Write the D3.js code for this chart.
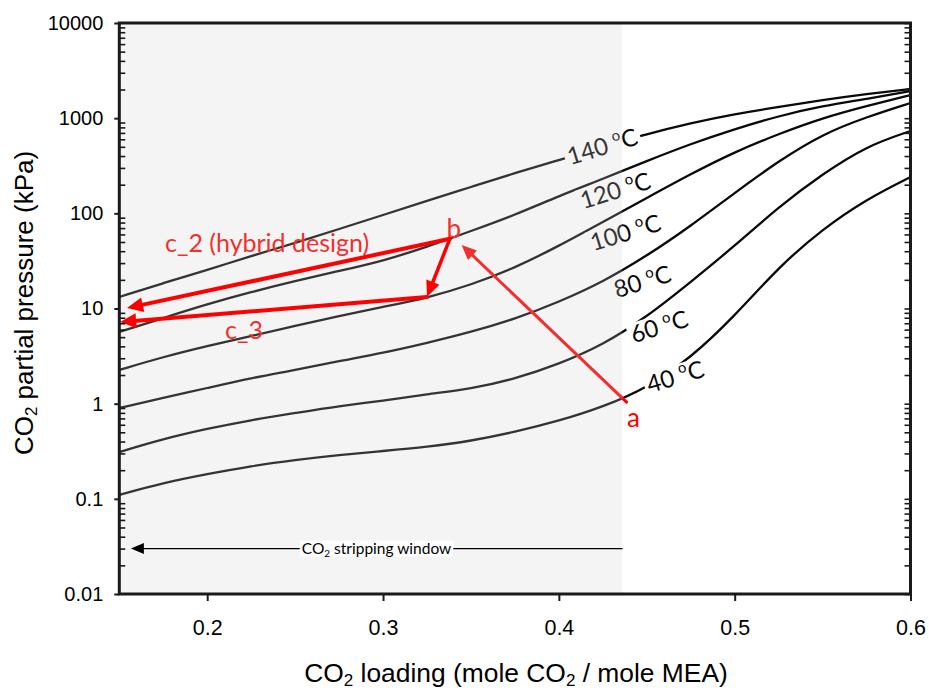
<!DOCTYPE html>
<html>
<head>
<meta charset="utf-8">
<script src="https://cdn.jsdelivr.net/npm/d3@7"></script>
<style>
  body { margin: 0; background: #fff; }
  svg { display: block; }
</style>
</head>
<body>
<svg id="chart" width="929" height="691"></svg>
<script>
// CO2 loading (mole CO2 / mole MEA) at which the isotherms are sampled
const loading = [0.15, 0.175, 0.2, 0.225, 0.25, 0.275, 0.3, 0.325, 0.35, 0.375,
                 0.4, 0.425, 0.45, 0.475, 0.5, 0.525, 0.55, 0.575, 0.6];

// CO2 partial pressure (kPa) for each temperature
const p40  = [0.110, 0.147, 0.182, 0.221, 0.256, 0.289, 0.318, 0.351, 0.405, 0.504,
              0.658, 0.923, 1.46, 3.02, 8.34, 27.3, 68.5, 141, 241];
const p60  = [0.310, 0.426, 0.545, 0.674, 0.798, 0.946, 1.07, 1.26, 1.43, 1.82,
              2.61, 4.14, 8.15, 19.0, 45.4, 117, 259, 510, 733];
const p80  = [0.901, 1.15, 1.46, 1.86, 2.26, 2.81, 3.41, 4.34, 5.66, 7.76,
              11.7, 19.0, 35.6, 73.6, 164, 355, 682, 1028, 1443];
const p100 = [2.26, 3.10, 4.04, 5.14, 6.55, 8.34, 10.4, 12.9, 17.7, 26.7,
              45.4, 81.1, 145, 259, 442, 682, 1005, 1343, 1751];
const p120 = [5.66, 7.94, 11.1, 14.9, 19.4, 24.8, 31.6, 44.3, 65.2, 96.1,
              152, 230, 355, 536, 769, 1054, 1343, 1589, 1927];
const p140 = [13.2, 18.5, 25.4, 35.6, 48.8, 68.4, 96.1, 135, 189, 265,
              363, 498, 682, 889, 1107, 1310, 1552, 1795, 2027];

const temps = [40, 60, 80, 100, 120, 140];
const pressures = [p40, p60, p80, p100, p120, p140];

// axis ticks
const xTicks = [0.2, 0.3, 0.4, 0.5, 0.6];
const xTickLabels = ["0.2", "0.3", "0.4", "0.5", "0.6"];
const yTicks = [0.01, 0.1, 1, 10, 100, 1000, 10000];
const yTickLabels = ["0.01", "0.1", "1", "10", "100", "1000", "10000"];

// stripping window upper loading limit
const windowEdge = 0.436;

// process path points: [loading, kPa]
const pointA = [0.4385, 1.04];
const pointB = [0.338, 54];
const arrowAtB = [0.3447, 46.5];
const pointTurn = [0.325, 13.2];
const c2End = [0.1544, 10.1];
const c3End = [0.1505, 7.2];
const windowArrowTip = [0.1566, 0.03];

// where each isotherm label sits: [loading, kPa]
const labelAnchors = [[0.4663, 1.9], [0.4572, 6.4], [0.4476, 19], [0.4379, 62], [0.4322, 172], [0.4248, 498]];

const W = 929, H = 691;
const plot = { left: 119.3, right: 910.5, top: 23, bottom: 594 };
const svg = d3.select("#chart");

const x = d3.scaleLinear().domain([0.15, 0.6]).range([plot.left, plot.right]);
const y = d3.scaleLog().domain([0.01, 10000]).range([plot.bottom, plot.top]);

const arial = "'Liberation Sans', Arial, sans-serif";
const humanist = "Lato, 'Open Sans', sans-serif";

svg.append("rect").attr("width", W).attr("height", H).attr("fill", "#fff");
const defs = svg.append("defs");

// isotherm curves
const line = d3.line().x(d => x(d[0])).y(d => y(d[1])).curve(d3.curveBasis);
const curveG = svg.append("g");
temps.forEach((t, i) => {
  curveG.append("path")
    .datum(loading.map((l, j) => [l, pressures[i][j]]))
    .attr("d", line)
    .attr("fill", "none")
    .attr("stroke", "#0a0a0a")
    .attr("stroke-width", 2.3)
    .attr("mask", `url(#gap-${t})`);
});

// isotherm labels, each one cutting a gap into its curve
const labelAngle = -17;
const labelG = svg.append("g");
temps.forEach((t, i) => {
  const [lx, ly] = labelAnchors[i];
  const cx = x(lx), cy = y(ly);
  const g = labelG.append("g").attr("transform", `translate(${cx},${cy}) rotate(${labelAngle})`);
  const txt = g.append("text")
    .attr("text-anchor", "middle")
    .attr("y", 8)
    .attr("fill", "#0a0a0a")
    .style("font-family", humanist)
    .style("font-size", "24px");
  txt.append("tspan").text(`${t} `);
  txt.append("tspan").text("o").style("font-size", "15px").attr("dy", -10);
  txt.append("tspan").text("C").attr("dy", 10);
  const bb = txt.node().getBBox();
  const m = defs.append("mask").attr("id", `gap-${t}`)
    .attr("maskUnits", "userSpaceOnUse")
    .attr("x", 0).attr("y", 0).attr("width", W).attr("height", H);
  m.append("rect").attr("width", W).attr("height", H).attr("fill", "#fff");
  m.append("rect")
    .attr("transform", `translate(${cx},${cy}) rotate(${labelAngle})`)
    .attr("x", bb.x - 3).attr("y", -12)
    .attr("width", bb.width + 6).attr("height", 22)
    .attr("fill", "#000");
});

function arrow(g, from, to, color, width, headLen, headW) {
  const x1 = x(from[0]), y1 = y(from[1]);
  const x2 = x(to[0]), y2 = y(to[1]);
  const dx = x2 - x1, dy = y2 - y1, len = Math.hypot(dx, dy);
  const ux = dx / len, uy = dy / len;
  const bx = x2 - ux * headLen, by = y2 - uy * headLen;
  g.append("line")
    .attr("x1", x1).attr("y1", y1)
    .attr("x2", bx + ux * 2).attr("y2", by + uy * 2)
    .attr("stroke", color).attr("stroke-width", width)
    .attr("stroke-linecap", "round");
  g.append("path")
    .attr("d", `M${x2},${y2}L${bx - uy * headW / 2},${by + ux * headW / 2}L${bx + uy * headW / 2},${by - ux * headW / 2}Z`)
    .attr("fill", color);
}

// heating step a -> b
const lowerG = svg.append("g");
arrow(lowerG, pointA, arrowAtB, "#ff0000", 3, 15, 13);

// red annotations
const red = "#ff0000";
const annG = svg.append("g").style("font-family", humanist).attr("fill", red);
annG.append("text").attr("x", 165).attr("y", 252).style("font-size", "25px").text("c_2 (hybrid design)");
annG.append("text").attr("x", 225).attr("y", 339).style("font-size", "25px").text("c_3");
annG.append("text").attr("x", x(pointA[0]) + 7).attr("y", 427).attr("text-anchor", "middle").style("font-size", "26px").text("a");
annG.append("text").attr("x", x(pointB[0]) + 4).attr("y", 238).attr("text-anchor", "middle").style("font-size", "26px").text("b");

// shaded stripping window
svg.append("rect")
  .attr("x", plot.left).attr("y", plot.top)
  .attr("width", x(windowEdge) - plot.left).attr("height", plot.bottom - plot.top)
  .attr("fill", "rgb(204,204,204)").attr("fill-opacity", 0.22);

// flash / compression paths
const upperG = svg.append("g");
arrow(upperG, pointB, c2End, red, 4, 16, 15);
arrow(upperG, pointB, pointTurn, red, 3.5, 16, 14);
arrow(upperG, pointTurn, c3End, red, 4, 16, 15);

// stripping window arrow
const winG = svg.append("g");
arrow(winG, [windowEdge, windowArrowTip[1]], windowArrowTip, "#000", 1.2, 13, 11);
const midX = (x(windowEdge) + x(windowArrowTip[0])) / 2;
const wy = y(windowArrowTip[1]);
const wText = winG.append("text")
  .attr("x", midX).attr("y", wy + 5)
  .attr("text-anchor", "middle")
  .style("font-family", humanist).style("font-size", "15.5px").attr("fill", "#000");
wText.append("tspan").text("CO");
wText.append("tspan").text("2").style("font-size", "10px").attr("dy", 3);
wText.append("tspan").text(" stripping window").attr("dy", -3);
const wb = wText.node().getBBox();
winG.insert("rect", "text")
  .attr("x", wb.x - 2).attr("y", wy - 8).attr("width", wb.width + 4).attr("height", 16)
  .attr("fill", "#fff");

// axes
const minorTicks = [];
[0.01, 0.1, 1, 10, 100, 1000].forEach(d => { for (let k = 2; k <= 9; k++) minorTicks.push(d * k); });

const axisG = svg.append("g").attr("color", "#1a1a1a");
const leftMajor = axisG.append("g").attr("transform", `translate(${plot.left},0)`)
  .call(d3.axisLeft(y).tickValues(yTicks).tickSize(5).tickPadding(11)
    .tickFormat((d, i) => yTickLabels[i]));
const leftMinor = axisG.append("g").attr("transform", `translate(${plot.left},0)`)
  .call(d3.axisLeft(y).tickValues(minorTicks).tickSize(-6).tickFormat(""));
const rightAll = axisG.append("g").attr("transform", `translate(${plot.right},0)`)
  .call(d3.axisRight(y).tickValues(yTicks.concat(minorTicks)).tickSize(-6).tickFormat(""));
const bottom = axisG.append("g").attr("transform", `translate(0,${plot.bottom})`)
  .call(d3.axisBottom(x).tickValues(xTicks).tickSize(7).tickPadding(19)
    .tickFormat((d, i) => xTickLabels[i]));

[leftMajor, leftMinor, rightAll, bottom].forEach(a => a.select(".domain").remove());
leftMajor.selectAll("line").attr("stroke-width", 2);
bottom.selectAll("line").attr("stroke-width", 2);
leftMinor.selectAll("line").attr("stroke-width", 1.6);
rightAll.selectAll("line").attr("stroke-width", 1.6);
leftMajor.selectAll("text").style("font-family", arial).style("font-size", "20px").attr("fill", "#000");
bottom.selectAll("text").style("font-family", arial).style("font-size", "21.5px").attr("fill", "#000");

// frame
svg.append("rect")
  .attr("x", plot.left).attr("y", plot.top)
  .attr("width", plot.right - plot.left).attr("height", plot.bottom - plot.top)
  .attr("fill", "none").attr("stroke", "#1a1a1a").attr("stroke-width", 3);

// axis titles
function co2Title(sel, parts) {
  parts.forEach((p, i) => {
    if (i > 0) {
      sel.append("tspan").text("2").style("font-size", "17px").attr("dy", 4);
      sel.append("tspan").text(p).attr("dy", -4);
    } else {
      sel.append("tspan").text(p);
    }
  });
}
const xTitle = svg.append("text")
  .attr("x", 516).attr("y", 682).attr("text-anchor", "middle")
  .style("font-family", arial).style("font-size", "26.4px").attr("fill", "#000");
co2Title(xTitle, ["CO", " loading (mole CO", " / mole MEA)"]);

const yTitle = svg.append("text")
  .attr("transform", "translate(33,303) rotate(-90)").attr("text-anchor", "middle")
  .style("font-family", arial).style("font-size", "26px").attr("fill", "#000");
co2Title(yTitle, ["CO", " partial pressure (kPa)"]);
</script>
</body>
</html>
